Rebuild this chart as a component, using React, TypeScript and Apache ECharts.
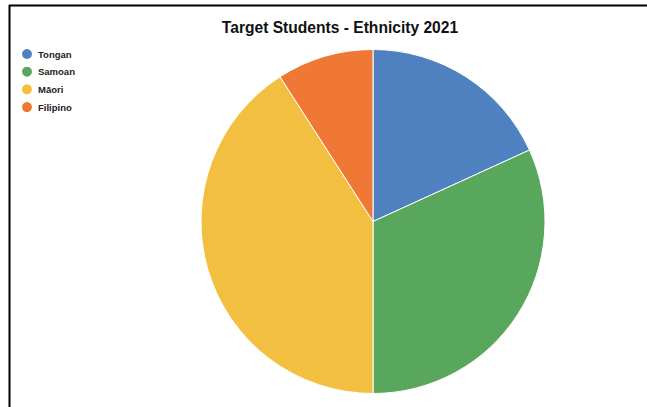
import React, { useEffect, useRef } from "react";
import * as echarts from "echarts";

const categories = ["Tongan", "Samoan", "Māori", "Filipino"];
const values = [4, 7, 9, 2];
const colors = ["#4f81c1", "#59a75c", "#f2bf41", "#ee7834"];
const titleText = "Target Students - Ethnicity 2021";

export default function App() {
  const ref = useRef<HTMLDivElement>(null);
  useEffect(() => {
    document.body.style.margin = "0";
    const chart = echarts.init(ref.current!, undefined, { renderer: "svg" });
    chart.setOption({
      animation: false,
      backgroundColor: "#ffffff",
      color: colors,
      title: {
        text: titleText,
        left: 335,
        textAlign: "center",
        top: 14,
        textStyle: {
          fontFamily: "Liberation Sans, Arial, sans-serif",
          fontWeight: "bold",
          fontSize: 15.6,
          color: "#111",
        },
      },
      legend: {
        orient: "vertical",
        left: 15,
        top: 42,
        icon: "circle",
        itemWidth: 12,
        itemHeight: 12,
        itemGap: 3.7,
        data: categories,
        textStyle: {
          fontFamily: "Liberation Sans, Arial, sans-serif",
          fontWeight: "bold",
          fontSize: 9.5,
          color: "#222",
        },
        selectedMode: false,
      },
      graphic: [
        { type: "line", shape: { x1: 9, y1: 5.5, x2: 647, y2: 5.5 }, style: { stroke: "#000", lineWidth: 2 } },
        { type: "line", shape: { x1: 9.5, y1: 5, x2: 9.5, y2: 407 }, style: { stroke: "#000", lineWidth: 2 } },
      ],
      series: [
        {
          type: "pie",
          center: [373, 221.5],
          radius: 172,
          startAngle: 90,
          clockwise: true,
          label: { show: false },
          labelLine: { show: false },
          emphasis: { disabled: true },
          itemStyle: { borderColor: "#ffffff", borderWidth: 1 },
          data: categories.map((name, i) => ({ name, value: values[i] })),
        },
      ],
    });
    return () => chart.dispose();
  }, []);
  return <div ref={ref} style={{ position: "absolute", left: 0, top: 0, width: 647, height: 407 }} />;
}
